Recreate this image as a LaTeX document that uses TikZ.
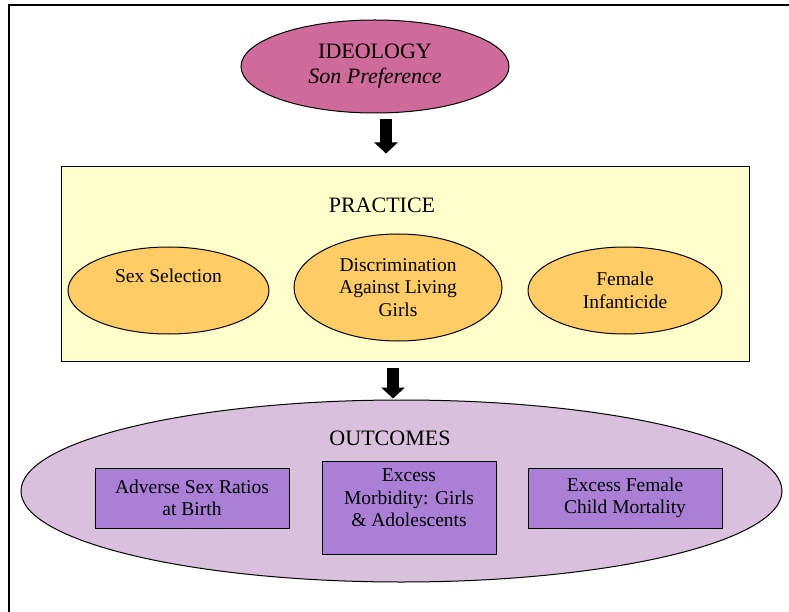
\documentclass[tikz,border=0pt]{standalone}
\usepackage{fontspec}
\setmainfont{LiberationSerif}[Extension=.ttf, UprightFont=*-Regular, ItalicFont=*-Italic, BoldFont=*-Bold, BoldItalicFont=*-BoldItalic]
\usetikzlibrary{shapes.geometric, arrows.meta}

\definecolor{ideopink}{RGB}{207,107,155}
\definecolor{practiceyellow}{RGB}{255,255,204}
\definecolor{ovalorange}{RGB}{255,204,102}
\definecolor{outlilac}{RGB}{217,192,220}
\definecolor{boxpurple}{RGB}{170,128,215}

\tikzset{
	heading/.style={font=\fontsize{22}{25}\selectfont},
	item/.style={draw, line width=1pt, align=center, inner sep=0pt, font=\fontsize{19.5}{22.5}\selectfont},
	oval/.style={item, ellipse, fill=ovalorange},
	outbox/.style={item, rectangle, fill=boxpurple},
	bigarrow/.style={line width=12pt, -{Triangle[width=23pt, length=11pt]}},
}

\begin{document}
\begin{tikzpicture}[x=1pt, y=-1pt]
	\useasboundingbox (0,0) rectangle (789,612);
	\draw [line width=2.7pt] (789,5) -| (9,612);			% Rahmen
	
	\node [heading, draw, line width=1pt, ellipse, fill=ideopink, align=center, minimum width=268pt, minimum height=93pt] (ideo) at (375,66.5) {IDEOLOGY\\\textit{Son Preference}};
	
	\node [draw, line width=1pt, fill=practiceyellow, minimum width=688pt, minimum height=194pt] (practice) at (405,264) {};
	\node [heading, anchor=base] (practicelabel) at (382,213) {PRACTICE};
	\node [oval, minimum width=201pt, minimum height=87pt] (sexsel) at (168.5,290.5) {Sex Selection\\[8pt]\mbox{}};
	\node [oval, minimum width=208pt, minimum height=107pt] (discrim) at (398,287.5) {Discrimination\\Against Living\\Girls};
	\node [oval, minimum width=194pt, minimum height=87pt] (infant) at (625,290.5) {Female\\Infanticide};
	
	\node [draw, line width=1pt, ellipse, fill=outlilac, minimum width=761pt, minimum height=182pt] (outcomes) at (401.5,491) {};
	\node [heading, anchor=base] (outcomeslabel) at (390,445) {OUTCOMES};
	\node [outbox, minimum width=194pt, minimum height=60pt] (ratios) at (192,498) {Adverse Sex Ratios\\at Birth};
	\node [outbox, minimum width=174pt, minimum height=93pt] (morbid) at (409,507.5) {Excess\\Morbidity: Girls\\\& Adolescents\\[-3.5pt]\mbox{}};
	\node [outbox, minimum width=194pt, minimum height=60pt] (mortal) at (625,498) {Excess Female\\Child Mortality};
	
	\coordinate (a1) at (386,0);						% Pfeil oben
	\coordinate (a2) at (393,0);						% Pfeil unten
	\draw [bigarrow, shorten <=6pt, shorten >=13pt] (ideo.south -| a1) -- (practice.north -| a1);
	\draw [bigarrow, shorten <=6pt, shorten >=1pt] (practice.south -| a2) -- (outcomes.north -| a2);
\end{tikzpicture}
\end{document}
